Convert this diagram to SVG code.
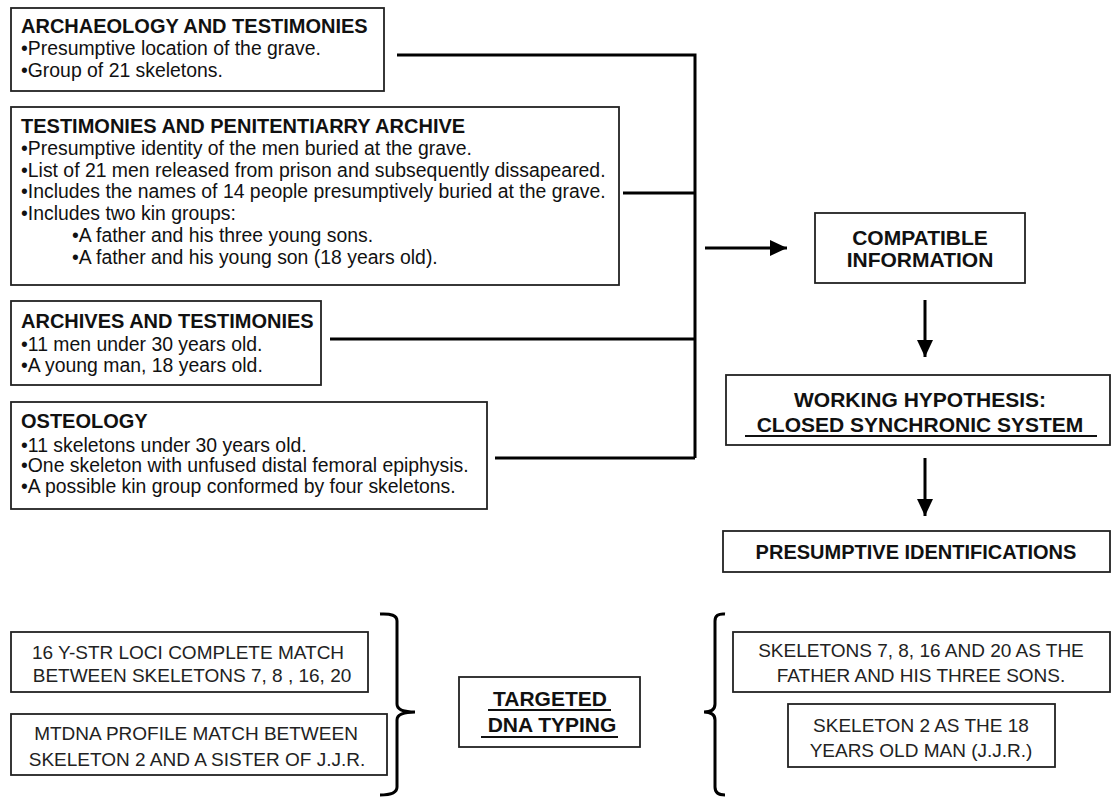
<svg xmlns="http://www.w3.org/2000/svg" width="1112" height="797" viewBox="0 0 1112 797">
<style>
text { font-family: "Liberation Sans", Arial, sans-serif; fill: #111; }
.t { font-size: 20px; font-weight: bold; }
.b { font-size: 19.4px; }
.h { font-size: 21px; font-weight: bold; text-anchor: middle; }
.s { font-size: 19px; text-anchor: middle; fill: #222; }
.box { fill: #fff; stroke: #222; stroke-width: 1.8; }
.con { fill: none; stroke: #000; stroke-width: 3; stroke-linecap: butt; }
.ul { stroke: #111; stroke-width: 1.8; }
</style>
<defs>
<marker id="ah" viewBox="0 0 17 16" markerWidth="17" markerHeight="16" refX="17" refY="8" markerUnits="userSpaceOnUse" orient="auto">
<path d="M0,0 L17,8 L0,16 z" fill="#000"/>
</marker>
</defs>
<rect width="1112" height="797" fill="#fff"/>

<g id="connectors">
<path class="con" d="M397,55 H695 V458 M623,193 H695 M330,339 H695 M495,458 H695"/>
<line class="con" x1="705" y1="248" x2="787" y2="248" marker-end="url(#ah)"/>
<line class="con" x1="925" y1="300" x2="925" y2="357" marker-end="url(#ah)"/>
<line class="con" x1="925" y1="458" x2="925" y2="516" marker-end="url(#ah)"/>
<path class="con" d="M380,614 Q397,613 397,621 V704 Q397,712 415,712 Q397,712 397,720 V787 Q397,795 380,795"/>
<path class="con" d="M725,614 Q715,613 715,621 V704 Q715,712 704,712 Q715,712 715,720 V787 Q715,795 725,795"/>
</g>

<g id="archaeology">
<rect class="box" x="11" y="8" width="373" height="83"/>
<text class="t" x="21" y="33">ARCHAEOLOGY AND TESTIMONIES</text>
<text class="b" x="21" y="55">•Presumptive location of the grave.</text>
<text class="b" x="21" y="77">•Group of 21 skeletons.</text>
</g>

<g id="penitentiary">
<rect class="box" x="11" y="107" width="608" height="178"/>
<text class="t" x="21" y="133">TESTIMONIES AND PENITENTIARRY ARCHIVE</text>
<text class="b" x="21" y="155">•Presumptive identity of the men buried at the grave.</text>
<text class="b" x="21" y="177">•List of 21 men released from prison and subsequently dissapeared.</text>
<text class="b" x="21" y="198">•Includes the names of 14 people presumptively buried at the grave.</text>
<text class="b" x="21" y="220">•Includes two kin groups:</text>
<text class="b" x="72" y="242">•A father and his three young sons.</text>
<text class="b" x="72" y="264">•A father and his young son (18 years old).</text>
</g>

<g id="archives">
<rect class="box" x="11" y="301" width="310" height="84"/>
<text class="t" x="21" y="328">ARCHIVES AND TESTIMONIES</text>
<text class="b" x="21" y="351">•11 men under 30 years old.</text>
<text class="b" x="21" y="372">•A young man, 18 years old.</text>
</g>

<g id="osteology">
<rect class="box" x="11" y="402" width="476" height="107"/>
<text class="t" x="21" y="428">OSTEOLOGY</text>
<text class="b" x="21" y="452">•11 skeletons under 30 years old.</text>
<text class="b" x="21" y="472">•One skeleton with unfused distal femoral epiphysis.</text>
<text class="b" x="21" y="493">•A possible kin group conformed by four skeletons.</text>
</g>

<g id="compatible">
<rect class="box" x="815" y="213" width="210" height="70"/>
<text class="h" x="920" y="245">COMPATIBLE</text>
<text class="h" x="920" y="267">INFORMATION</text>
</g>

<g id="hypothesis">
<rect class="box" x="726" y="375" width="384" height="70"/>
<text class="h" x="920" y="407">WORKING HYPOTHESIS:</text>
<text class="h" x="920" y="432">CLOSED SYNCHRONIC SYSTEM</text>
<line class="ul" x1="745" y1="436" x2="1097" y2="436"/>
</g>

<g id="presumptive">
<rect class="box" x="723" y="531" width="387" height="41"/>
<text class="h" x="916" y="559" style="font-size:20px">PRESUMPTIVE IDENTIFICATIONS</text>
</g>

<g id="ystr">
<rect class="box" x="11" y="632" width="357" height="60"/>
<text class="s" x="188" y="659">16 Y-STR LOCI COMPLETE  MATCH</text>
<text class="s" x="192" y="682">BETWEEN SKELETONS 7, 8 , 16, 20</text>
</g>

<g id="mtdna">
<rect class="box" x="11" y="714" width="376" height="61"/>
<text class="s" x="196" y="740">MTDNA PROFILE MATCH BETWEEN</text>
<text class="s" x="197" y="766">SKELETON 2 AND A SISTER OF J.J.R.</text>
</g>

<g id="targeted">
<rect class="box" x="459" y="677" width="181" height="70"/>
<text class="h" x="550" y="706">TARGETED</text>
<line class="ul" x1="488" y1="710" x2="611" y2="710"/>
<text class="h" x="552" y="732">DNA TYPING</text>
<line class="ul" x1="481" y1="737" x2="618" y2="737"/>
</g>

<g id="skeletons">
<rect class="box" x="733" y="632" width="377" height="60"/>
<text class="s" x="921" y="657">SKELETONS 7, 8, 16 AND 20 AS THE</text>
<text class="s" x="921" y="682">FATHER AND HIS THREE SONS.</text>
</g>

<g id="skeleton2">
<rect class="box" x="788" y="704" width="267" height="63"/>
<text class="s" x="921" y="732">SKELETON 2 AS THE 18</text>
<text class="s" x="921" y="757">YEARS OLD MAN (J.J.R.)</text>
</g>
</svg>
